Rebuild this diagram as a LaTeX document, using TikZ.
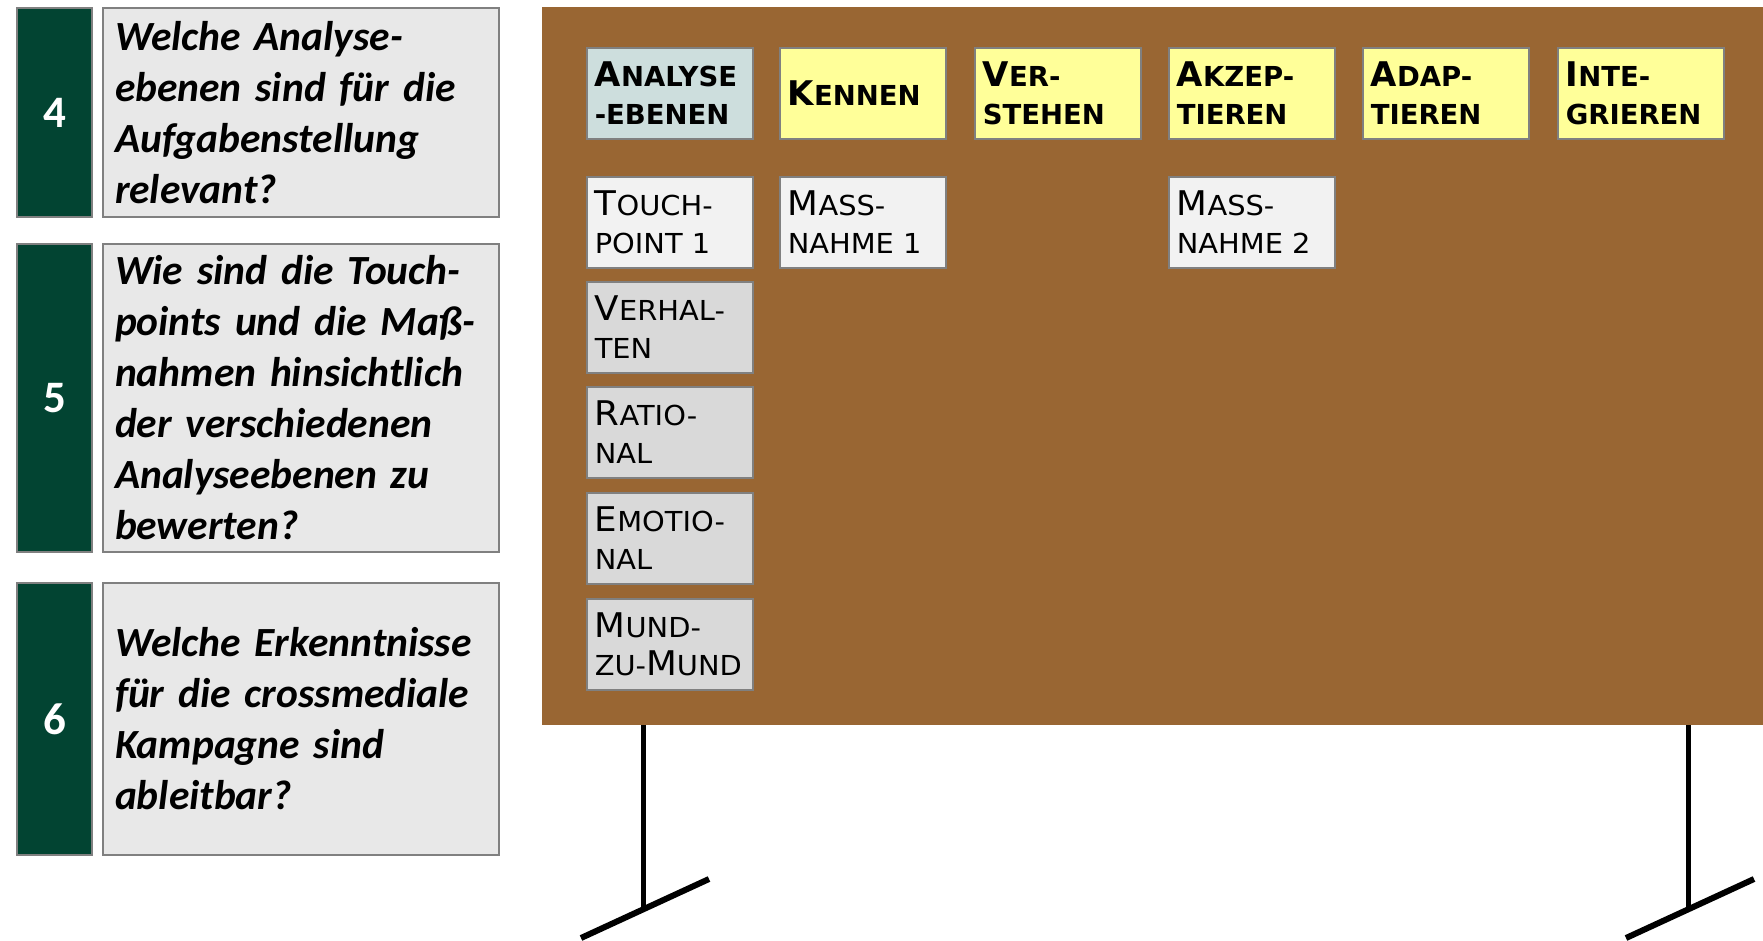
\documentclass[tikz,border=0pt]{standalone}
\usepackage{fontspec}
\setmainfont{Carlito}
\newfontfamily\boardreg[FakeStretch=1.05]{DejaVu Sans}
\newfontfamily\boardhead{DejaVu Sans}
\definecolor{boardbrown}{RGB}{153,102,51}
\definecolor{qgreen}{RGB}{2,68,50}
\definecolor{qgray}{RGB}{232,232,232}
\definecolor{edgegray}{RGB}{128,128,128}
\definecolor{cardyellow}{RGB}{255,255,153}
\definecolor{cardblue}{RGB}{205,222,221}
\definecolor{cardlight}{RGB}{242,242,242}
\definecolor{cardgray}{RGB}{217,217,217}
\newcommand\ini[1]{{\fontsize{34}{38}\selectfont #1}}
\tikzset{
  qnum/.style={fill=qgreen, draw=edgegray, line width=2pt, text=white,
    font=\bfseries\fontsize{45}{50}\selectfont, inner sep=0pt,
    minimum width=75pt, anchor=north west},
  qbox/.style={fill=qgray, draw=edgegray, line width=2pt, inner xsep=12pt,
    inner ysep=0pt, text width=372pt, align=left, anchor=north west,
    font=\bfseries\itshape\fontsize{41.5}{51}\selectfont},
  card/.style={draw=edgegray, line width=1.5pt, minimum height=91pt,
    text width=150pt, inner xsep=8pt, inner ysep=0pt, align=left,
    anchor=north west},
  headcard/.style={card, fill=cardyellow,
    font=\boardhead\bfseries\fontsize{27.5}{38}\selectfont},
  levelcard/.style={headcard, fill=cardblue},
  itemcard/.style={card, fill=cardlight,
    font=\boardreg\fontsize{27.5}{38}\selectfont},
  dimcard/.style={itemcard, fill=cardgray},
  leg/.style={line width=5pt, black},
  foot/.style={line width=6pt, black}
}
\begin{document}
\begin{tikzpicture}[x=1pt,y=-1pt]
\useasboundingbox (0,0) rectangle (1763,940);
% questions
\node[qnum, minimum height=209pt] (n4) at (16,7) {4};
\node[qbox, minimum height=209pt] (q4) at (102,7)
  {Welche Analyse-\\ebenen sind für die\\Aufgabenstellung\\relevant?};
\node[qnum, minimum height=308pt] (n5) at (16,243) {5};
\node[qbox, minimum height=308pt] (q5) at (102,243)
  {Wie sind die Touch-\\points und die Maß-\\nahmen hinsichtlich\\der verschiedenen\\Analyseebenen zu\\bewerten?};
\node[qnum, minimum height=272pt] (n6) at (16,582) {6};
\node[qbox, minimum height=272pt] (q6) at (102,582)
  {Welche Erkenntnisse\\für die crossmediale\\Kampagne sind\\ableitbar?};
% board
\fill[boardbrown] (542,7) rectangle (1763,725);
\coordinate (lt) at (643,725);
\coordinate (lb) at (643,909);
\coordinate (rt) at (1688,725);
\coordinate (rb) at (1688,909);
\coordinate (lf1) at (581,938);
\coordinate (lf2) at (709,879);
\coordinate (rf1) at (1626,938);
\coordinate (rf2) at (1754,879);
\draw[leg] (lt) -- (lb);
\draw[leg] (rt) -- (rb);
\draw[foot] (lf1) -- (lf2);
\draw[foot] (rf1) -- (rf2);
% header row
\node[levelcard] (ebenen) at (586,47) {\ini{A}NALYSE\\-EBENEN};
\node[headcard] (kennen) at (779,47) {\ini{K}ENNEN};
\node[headcard] (verstehen) at (974,47) {\ini{V}ER-\\STEHEN};
\node[headcard] (akzept) at (1168,47) {\ini{A}KZEP-\\TIEREN};
\node[headcard] (adapt) at (1362,47) {\ini{A}DAP-\\TIEREN};
\node[headcard] (integ) at (1557,47) {\ini{I}NTE-\\GRIEREN};
% second row
\node[itemcard] (tp1) at (586,176) {\ini{T}OUCH-\\POINT 1};
\node[itemcard] (mn1) at (779,176) {\ini{M}ASS-\\NAHME 1};
\node[itemcard] (mn2) at (1168,176) {\ini{M}ASS-\\NAHME 2};
% analysis levels
\node[dimcard] (verh) at (586,281) {\ini{V}ERHAL-\\TEN};
\node[dimcard] (rat) at (586,386) {\ini{R}ATIO-\\NAL};
\node[dimcard] (emo) at (586,492) {\ini{E}MOTIO-\\NAL};
\node[dimcard] (mund) at (586,598) {\ini{M}UND-\\ZU-\ini{M}UND};
\end{tikzpicture}
\end{document}
